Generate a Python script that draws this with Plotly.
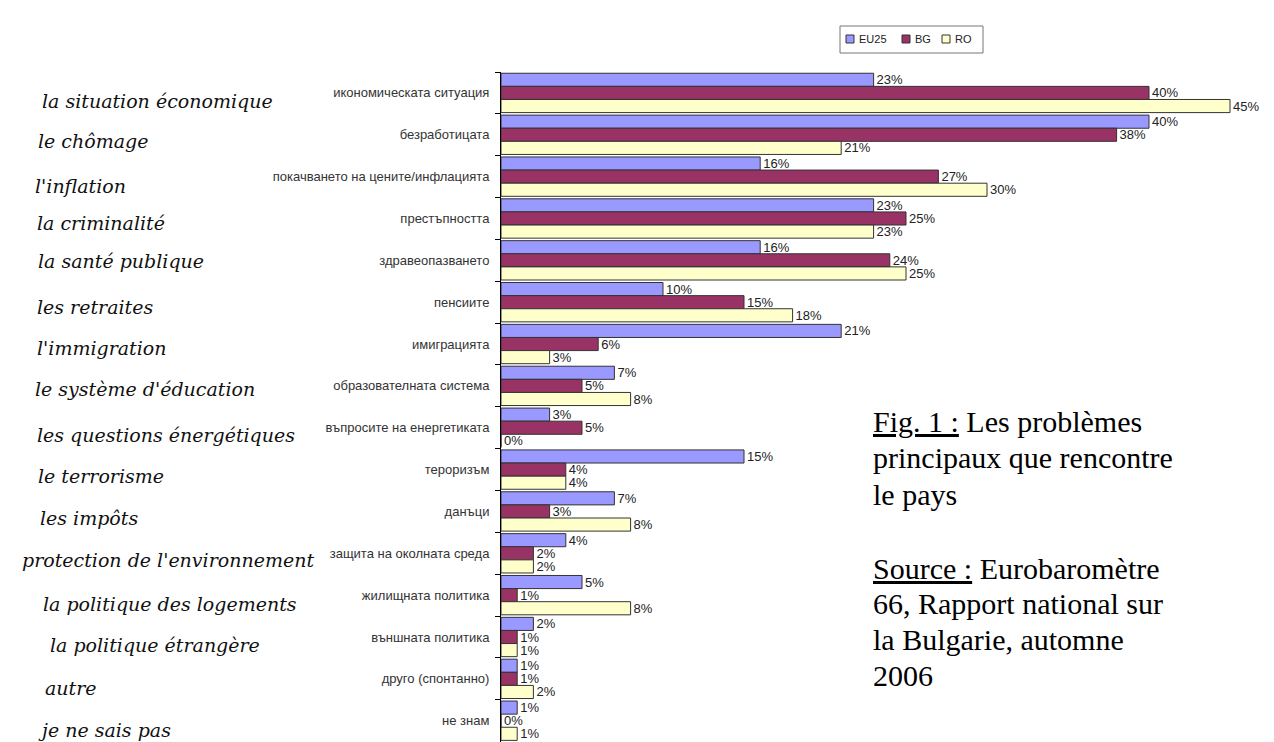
import plotly.graph_objects as go

# ---------------- data ----------------
categories_bg = [
    "икономическата ситуация",
    "безработицата",
    "покачването на цените/инфлацията",
    "престъпността",
    "здравеопазването",
    "пенсиите",
    "имиграцията",
    "образователната система",
    "въпросите на енергетиката",
    "тероризъм",
    "данъци",
    "защита на околната среда",
    "жилищната политика",
    "външната политика",
    "друго (спонтанно)",
    "не знам",
]
labels_fr = [
    "la situation économique",
    "le chômage",
    "l'inflation",
    "la criminalité",
    "la santé publique",
    "les retraites",
    "l'immigration",
    "le système d'éducation",
    "les questions énergétiques",
    "le terrorisme",
    "les impôts",
    "protection de l'environnement",
    "la politique des logements",
    "la politique étrangère",
    "autre",
    "je ne sais pas",
]
series_names = ["EU25", "BG", "RO"]
eu25 = [23, 40, 16, 23, 16, 10, 21, 7, 3, 15, 7, 4, 5, 2, 1, 1]
bg = [40, 38, 27, 25, 24, 15, 6, 5, 5, 4, 3, 2, 1, 1, 1, 0]
ro = [45, 21, 30, 23, 25, 18, 3, 8, 0, 4, 8, 2, 8, 1, 2, 1]

caption_lines = [
    "<u>Fig. 1 :</u> Les problèmes",
    "principaux que rencontre",
    "le pays",
    "<u>Source :</u> Eurobaromètre",
    "66, Rapport national sur",
    "la Bulgarie, automne",
    "2006",
]

# ---------------- layout helpers ----------------
FW, FH = 1274, 742
L, R, T, B = 493, 1, 64, 0
PW, PH = FW - L - R, FH - T - B


def px_x(px):
    return (px - L) / PW


def px_y(py):
    return (FH - B - py) / PH


colors = ["#9999FF", "#993366", "#FFFFCC"]
values = [eu25, bg, ro]

fig = go.Figure()
for name, vals, col in zip(series_names, values, colors):
    fig.add_trace(go.Bar(
        y=categories_bg,
        x=vals,
        name=name,
        orientation="h",
        marker=dict(color=col, line=dict(color="#333333", width=1)),
        text=[f"{v}%" for v in vals],
        textposition="outside",
        constraintext="none",
        cliponaxis=False,
        textfont=dict(family="Liberation Sans, Arial, sans-serif", size=13, color="#222222"),
        showlegend=False,
    ))

fig.update_layout(
    width=FW,
    height=FH,
    margin=dict(l=L, r=R, t=T, b=B),
    paper_bgcolor="white",
    plot_bgcolor="white",
    barmode="group",
    bargap=0.06,
    bargroupgap=0,
    xaxis=dict(range=[0, PW / 16.2], visible=False, showgrid=False, zeroline=False),
    yaxis=dict(
        type="category",
        categoryorder="array",
        categoryarray=categories_bg,
        range=[len(categories_bg) - 0.3, -0.5],
        showline=True,
        linecolor="#000000",
        linewidth=1,
        ticks="outside",
        tickson="boundaries",
        ticklen=5,
        tickcolor="#000000",
        showgrid=False,
        zeroline=False,
        ticklabelstandoff=8,
        tickfont=dict(family="Liberation Sans, Arial, sans-serif", size=13, color="#333333"),
    ),
)

# French labels (left column)
fr_pos = [(32, 93), (28, 133), (25, 178), (27, 215), (28, 253), (27, 299), (27, 340),
          (25, 381), (27, 427), (28, 468), (30, 510), (12, 552), (33, 596), (40, 637),
          (35, 680), (28, 722)]
for txt, (x0, y0) in zip(labels_fr, fr_pos):
    fig.add_annotation(
        x=px_x(x0), y=px_y(y0), xref="paper", yref="paper",
        text=f"<i>{txt}</i>", showarrow=False, xanchor="left", yanchor="middle",
        font=dict(family="DejaVu Serif, serif", size=19, color="#111111"),
    )

# caption block
cap_y = [413, 450, 486, 560, 595, 631, 667]
for txt, y0 in zip(caption_lines, cap_y):
    fig.add_annotation(
        x=px_x(863), y=px_y(y0), xref="paper", yref="paper",
        text=txt, showarrow=False, xanchor="left", yanchor="middle",
        font=dict(family="Liberation Serif, Times New Roman, serif", size=30, color="#000000"),
    )

# legend box (drawn)
fig.add_shape(type="rect", xref="paper", yref="paper",
              x0=px_x(832), x1=px_x(975), y0=px_y(45), y1=px_y(18),
              line=dict(color="#777777", width=1), fillcolor="white")
leg_sq = [838, 894, 934]
leg_tx = [849, 905, 945]
for name, col, sx, tx in zip(series_names, colors, leg_sq, leg_tx):
    fig.add_shape(type="rect", xref="paper", yref="paper",
                  x0=px_x(sx), x1=px_x(sx + 8), y0=px_y(35), y1=px_y(27),
                  line=dict(color="#333333", width=1), fillcolor=col)
    fig.add_annotation(
        x=px_x(tx), y=px_y(31), xref="paper", yref="paper",
        text=name, showarrow=False, xanchor="left", yanchor="middle",
        font=dict(family="Liberation Sans, Arial, sans-serif", size=11, color="#222222"),
    )

fig.write_html("out.html")
